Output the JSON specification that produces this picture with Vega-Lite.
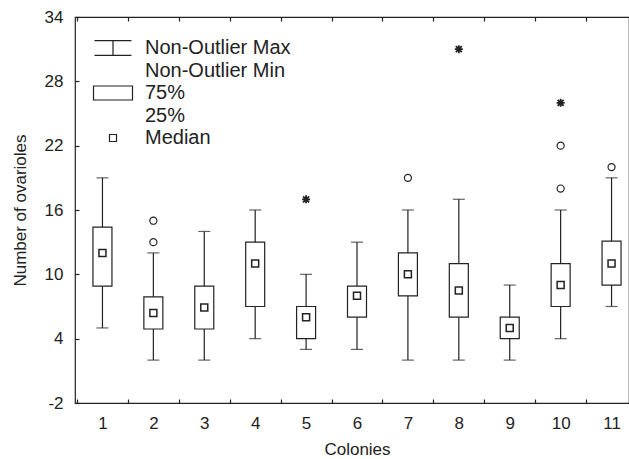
{
  "$schema": "https://vega.github.io/schema/vega-lite/v6.json",
  "autosize": {"type": "none"},
  "padding": {"left": 75, "top": 17, "right": 0, "bottom": 56},
  "width": 554,
  "height": 386,
  "background": "white",
  "config": {
    "view": {"stroke": "#222", "strokeWidth": 1.2},
    "font": "Liberation Sans",
    "axis": {
      "labelFont": "Liberation Sans",
      "titleFont": "Liberation Sans",
      "labelColor": "#222",
      "titleColor": "#222",
      "tickColor": "#222",
      "tickWidth": 1.2,
      "labelFontSize": 17,
      "titleFontSize": 17,
      "titleFontWeight": "normal",
      "grid": false,
      "domain": false
    }
  },
  "datasets": {
    "boxes": [
      {"colony": "1", "lower": 5, "q1": 8.9, "median": 12, "q3": 14.4, "upper": 19},
      {"colony": "2", "lower": 2, "q1": 4.9, "median": 6.4, "q3": 7.9, "upper": 12},
      {"colony": "3", "lower": 2, "q1": 4.9, "median": 6.9, "q3": 8.9, "upper": 14},
      {"colony": "4", "lower": 4, "q1": 7, "median": 11, "q3": 13, "upper": 16},
      {"colony": "5", "lower": 3, "q1": 4, "median": 6, "q3": 7, "upper": 10},
      {"colony": "6", "lower": 3, "q1": 6, "median": 8, "q3": 8.9, "upper": 13},
      {"colony": "7", "lower": 2, "q1": 8, "median": 10, "q3": 12, "upper": 16},
      {"colony": "8", "lower": 2, "q1": 6, "median": 8.5, "q3": 11, "upper": 17},
      {"colony": "9", "lower": 2, "q1": 4, "median": 5, "q3": 6, "upper": 9},
      {"colony": "10", "lower": 4, "q1": 7, "median": 9, "q3": 11, "upper": 16},
      {"colony": "11", "lower": 7, "q1": 9, "median": 11, "q3": 13.1, "upper": 19}
    ],
    "points": [
      {"colony": "2", "value": 15, "kind": "outlier"},
      {"colony": "2", "value": 13, "kind": "outlier"},
      {"colony": "5", "value": 17, "kind": "extreme"},
      {"colony": "7", "value": 19, "kind": "outlier"},
      {"colony": "8", "value": 31, "kind": "extreme"},
      {"colony": "10", "value": 26, "kind": "extreme"},
      {"colony": "10", "value": 22, "kind": "outlier"},
      {"colony": "10", "value": 18, "kind": "outlier"},
      {"colony": "11", "value": 20, "kind": "outlier"}
    ],
    "legendItems": [
      {"item": "Non-Outlier Max"},
      {"item": "Non-Outlier Min"},
      {"item": "75%"},
      {"item": "25%"},
      {"item": "Median"}
    ]
  },
  "layer": [
    {
      "data": {"name": "boxes"},
      "mark": {"type": "rule", "color": "#222", "strokeWidth": 1.2},
      "encoding": {
        "x": {
          "field": "colony",
          "type": "nominal",
          "sort": ["1", "2", "3", "4", "5", "6", "7", "8", "9", "10", "11"],
          "scale": {"range": [2, 562], "paddingInner": 0, "paddingOuter": 0},
          "axis": {
            "orient": "bottom",
            "title": "Colonies",
            "labelAngle": 0,
            "tickBand": "extent",
            "tickSize": -4,
            "labelPadding": 16,
            "titlePadding": 10
          }
        },
        "y": {
          "field": "lower",
          "type": "quantitative",
          "scale": {"domain": [-2, 34], "nice": false, "zero": false},
          "axis": {
            "title": "Number of ovarioles",
            "values": [-2, 4, 10, 16, 22, 28, 34],
            "labelExpr": "'' + datum.value",
            "tickSize": -4,
            "labelPadding": 16,
            "titlePadding": 15
          }
        },
        "y2": {"field": "upper"}
      }
    },
    {
      "data": {"name": "boxes"},
      "mark": {"type": "tick", "size": 12, "thickness": 1.2, "color": "#222", "orient": "horizontal"},
      "encoding": {
        "x": {
          "field": "colony",
          "type": "nominal",
          "sort": ["1", "2", "3", "4", "5", "6", "7", "8", "9", "10", "11"],
          "axis": {
            "orient": "top",
            "title": null,
            "labels": false,
            "tickBand": "extent",
            "tickSize": -4
          }
        },
        "y": {"field": "lower", "type": "quantitative"}
      }
    },
    {
      "data": {"name": "boxes"},
      "mark": {"type": "tick", "size": 12, "thickness": 1.2, "color": "#222", "orient": "horizontal"},
      "encoding": {
        "x": {"field": "colony", "type": "nominal", "sort": ["1", "2", "3", "4", "5", "6", "7", "8", "9", "10", "11"], "axis": null},
        "y": {"field": "upper", "type": "quantitative"}
      }
    },
    {
      "data": {"name": "boxes"},
      "mark": {"type": "bar", "size": 19, "fill": "white", "stroke": "#222", "strokeWidth": 1.2},
      "encoding": {
        "x": {"field": "colony", "type": "nominal", "sort": ["1", "2", "3", "4", "5", "6", "7", "8", "9", "10", "11"], "axis": null},
        "y": {"field": "q1", "type": "quantitative"},
        "y2": {"field": "q3"}
      }
    },
    {
      "data": {"name": "boxes"},
      "mark": {"type": "point", "shape": "square", "size": 49, "filled": false, "fill": "white", "stroke": "#222", "strokeWidth": 1.5, "opacity": 1},
      "encoding": {
        "x": {"field": "colony", "type": "nominal", "sort": ["1", "2", "3", "4", "5", "6", "7", "8", "9", "10", "11"], "axis": null},
        "y": {"field": "median", "type": "quantitative"}
      }
    },
    {
      "data": {"name": "points"},
      "transform": [{"filter": "datum.kind === 'outlier'"}],
      "mark": {"type": "point", "shape": "circle", "size": 50, "filled": false, "stroke": "#222", "strokeWidth": 1.2, "opacity": 1},
      "encoding": {
        "x": {"field": "colony", "type": "nominal", "sort": ["1", "2", "3", "4", "5", "6", "7", "8", "9", "10", "11"], "axis": null},
        "y": {"field": "value", "type": "quantitative"}
      }
    },
    {
      "data": {"name": "points"},
      "transform": [{"filter": "datum.kind === 'extreme'"}],
      "mark": {"type": "point", "shape": "M-1,0H1M0,-1V1M-0.75,-0.75L0.75,0.75M-0.75,0.75L0.75,-0.75", "size": 64, "filled": false, "stroke": "#222", "strokeWidth": 1.8, "opacity": 1},
      "encoding": {
        "x": {"field": "colony", "type": "nominal", "sort": ["1", "2", "3", "4", "5", "6", "7", "8", "9", "10", "11"], "axis": null},
        "y": {"field": "value", "type": "quantitative"}
      }
    },
    {
      "data": {"name": "legendItems"},
      "mark": {"type": "point", "filled": false, "opacity": 0},
      "encoding": {
        "shape": {
          "field": "item",
          "type": "nominal",
          "scale": {
            "domain": ["Non-Outlier Max", "Non-Outlier Min", "75%", "25%", "Median"],
            "range": [
              "M-1.85,-0.73H1.85M-1.85,0.73H1.85M0,-0.73V0.73",
              "M0,0",
              "M-1.95,-0.7H1.95V0.7H-1.95Z",
              "M0,0",
              "M-0.35,-0.35H0.35V0.35H-0.35Z"
            ]
          },
          "legend": {
            "orient": "none",
            "legendX": 27,
            "legendY": 20,
            "title": null,
            "padding": 0,
            "symbolSize": 400,
            "symbolStrokeColor": "#222",
            "symbolStrokeWidth": 1.2,
            "symbolFillColor": "white",
            "symbolOpacity": 1,
            "labelFont": "Liberation Sans",
            "labelFontSize": 20,
            "labelColor": "#222",
            "labelOffset": 21,
            "labelLimit": 400,
            "rowPadding": 1.5
          }
        }
      }
    }
  ]
}
